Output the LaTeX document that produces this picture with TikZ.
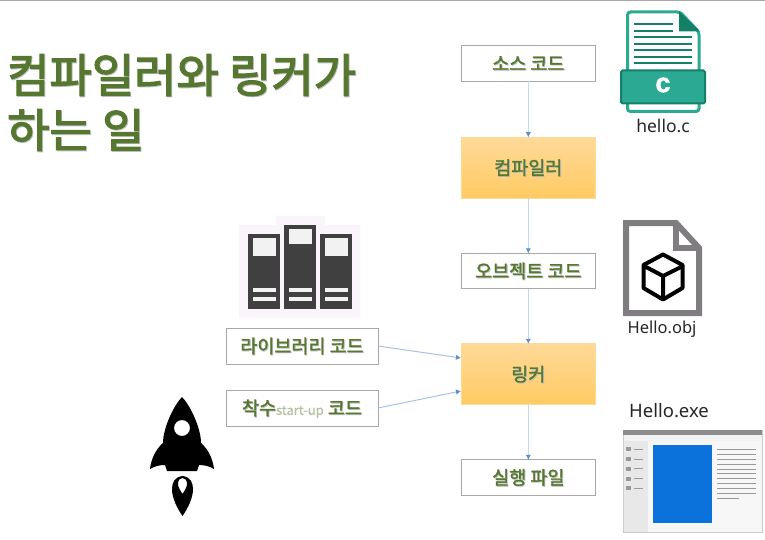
\documentclass[tikz,border=0pt]{standalone}
\usepackage{fontspec}
\setmainfont{Noto Sans}
\newfontfamily\cjk[FakeBold=1.6]{Noto Sans CJK KR}
\newfontfamily\cjkbig[FakeBold=2.8]{Noto Sans CJK KR}
\newfontfamily\cjkplain[FakeBold=.6]{Noto Sans CJK KR}
\newfontfamily\heavy[FakeBold=1.5]{Liberation Sans Bold}
\usetikzlibrary{positioning, arrows.meta}
\definecolor{leaf}{HTML}{56772F}
\definecolor{edge}{HTML}{C3D9EF}
\definecolor{tipblue}{HTML}{5B8FCB}
\definecolor{frame}{HTML}{A9A7AA}
\definecolor{teal}{HTML}{2BA993}
\definecolor{darkteal}{HTML}{158068}
\definecolor{objgray}{HTML}{807D81}
\definecolor{paper}{HTML}{FAF5FA}
\definecolor{winblue}{HTML}{0B72DC}
\definecolor{toolhi}{HTML}{FFD998}
\definecolor{toollo}{HTML}{FFCB63}
\newcommand{\soft}[1]{\rlap{\kern.9pt\raisebox{-.9pt}{\color{black!25}#1}}#1} % the faint drop shadow of the slide text
\tikzset{
codebox/.style={draw=frame, fill=white, line width=.9pt, minimum width=134.5pt, minimum height=35.5pt, outer sep=0pt, inner sep=0pt, text=leaf, text height=17pt, text depth=3.2pt, font=\cjk\fontsize{18.5}{20}\selectfont}, % the white boxes
sidebox/.style={codebox, minimum width=152pt, minimum height=36pt},
procbox/.style={codebox, draw=toolhi, top color=toolhi, bottom color=toollo, minimum height=61pt}, % the two tools
flow/.style={edge, line width=1pt, -{Latex[color=tipblue, length=5pt, width=5.5pt]}},
sideflow/.style={flow, edge!70!tipblue},
filename/.style={font=\fontsize{16.5}{18}\selectfont, text=black!85, inner sep=0pt},
}
\begin{document}
\begin{tikzpicture}[x=1pt, y=-1pt, node distance=55pt]
        \useasboundingbox (0,0) rectangle (765,540);
        \fill[frame] (0,0) rectangle (765,1);

        % title
        \node[anchor=north west, align=left, inner sep=0pt, text=leaf, font=\cjkbig\fontsize{46}{55}\selectfont] (title) at (7,54) {\soft{컴파일러와 링커가}\\\soft{하는 일}};

        % main column
        \node[codebox] (source) at (528.3,63.5) {\soft{소스 코드}};
        \node[procbox, below=56pt of source] (compiler) {\soft{컴파일러}};
        \node[codebox, below=of compiler] (object) {\soft{오브젝트 코드}};
        \node[procbox, below=of object] (linker) {\soft{링커}};
        \node[codebox, below=of linker] (program) {\soft{실행 파일}};

        % side column
        \node[sidebox] (library) at (302,346) {\soft{라이브러리 코드}};
        \node[sidebox, below=26pt of library] (startup) {\soft{착수}{\cjkplain\fontsize{13}{14}\selectfont\color{leaf!45}start-up} \soft{코드}};

        \coordinate (linkA) at (461,358);
        \coordinate (linkB) at (461,391);
        \draw[flow] (source) -- (compiler);
        \draw[flow] (compiler) -- (object);
        \draw[flow] (object) -- (linker);
        \draw[flow] (linker) -- (program);
        \draw[sideflow] (library.east) -- (linkA);
        \draw[sideflow] (startup.east) -- (linkB);

        % hello.c
        \draw[teal, line width=3pt, fill=white, rounded corners=3pt] (627.5,12) -- (680,12) -- (699,32) -- (699,111.5) -- (627.5,111.5) -- cycle;
        \fill[darkteal] (679,11) -- (700,31.5) -- (679,31.5) -- cycle;
        \foreach \y in {24,31} \draw[darkteal, line width=2pt] (634,\y) -- (673,\y);
        \foreach \y in {37,44,50,57,63} \draw[darkteal, line width=2pt] (634,\y) -- (692,\y);
        \draw[darkteal, fill=teal, line width=2pt, rounded corners=1.5pt] (621,70.5) rectangle (705,103.5);
        \node[text=white, font=\heavy\fontsize{27}{27}\selectfont, inner sep=0pt] (clabel) at (663,85) {c};
        \node[filename, font=\fontsize{17.5}{18}\selectfont] (cfile) at (663,126) {hello.c};

        % Hello.obj
        \draw[objgray, line width=6pt, miter limit=3] (626,223) -- (676,223) -- (699,248) -- (699,313) -- (626,313) -- cycle;
        \draw[objgray, line width=6pt] (676,223) -- (676,248) -- (699,248);
        \draw[black, line width=4pt, line join=round, line cap=round] (663,254.5) -- (682.5,265) -- (682.5,288) -- (663,299.5) -- (643.5,288) -- (643.5,265) -- cycle;
        \draw[black, line width=4pt, line join=round, line cap=round] (646,267) -- (663,276) -- (681,267) (663,276) -- (663,298);
        \node[filename] (objfile) at (662,329) {Hello.obj};

        % Hello.exe
        \node[filename, font=\fontsize{18.5}{20}\selectfont] (exefile) at (669,411) {Hello.exe};
        \draw[frame!60, fill=black!3] (623.5,430) rectangle (762,532.5);
        \fill[black!45] (623,430) rectangle (762,434.5);
        \fill[black!5] (623.5,434.5) rectangle (762,441);
        \fill[black!9] (624,441) rectangle (648,532);
        \fill[winblue] (653,445) rectangle (712,523);
        \foreach \y in {449,454,459,464,469,473.5,478.5,483.5,488.5,493.5} \draw[black!40, line width=1pt] (717,\y) -- (756,\y);
        \draw[black!40, line width=1pt] (717,498) -- (739,498);
        \foreach \y in {449,459,468.5,478.5,488} {
            \fill[black!40] (626,\y-2) rectangle (630.5,\y+2);
            \draw[black!40, line width=.8pt] (634,\y) -- (643,\y);
        }

        % library books
        \fill[paper] (239,225) rectangle (360,318) (276,216) rectangle (325,225);
        \foreach \x/\y/\z in {248/234/238, 284/225/229, 320/234/238} {
            \fill[black!75] (\x,\y) rectangle (\x+32,309);
            \fill[black!5] (\x+4.5,\z) rectangle (\x+27.5,\z+\y/3-60);
            \fill[black!5] (\x+4.5,287.5) rectangle (\x+27.5,292);
            \fill[black!5] (\x+4.5,296.5) rectangle (\x+27.5,301);
        }

        % rocket
        \fill[black, even odd rule] (182,397) .. controls (174,405) and (163,428) .. (163,443) .. controls (155,450) and (151,460) .. (150,469) .. controls (155,466) and (160,465) .. (165,465) -- (167,471) -- (197,471) -- (199,465) .. controls (204,465) and (209,466) .. (214,469) .. controls (213,460) and (209,450) .. (201,443) .. controls (201,428) and (190,405) .. (182,397) -- cycle (190,428) arc[start angle=0, end angle=360, radius=8];
        \fill[black, even odd rule] (182.5,516) .. controls (177,508) and (172,498) .. (172,489) .. controls (172,482) and (175,477) .. (182.5,476) .. controls (190,477) and (193,482) .. (193,489) .. controls (193,498) and (188,508) .. (182.5,516) -- cycle (182.5,494) .. controls (180,490) and (178,487) .. (178,484) .. controls (178,480) and (180,478) .. (182.5,478) .. controls (185,478) and (187,480) .. (187,484) .. controls (187,487) and (185,490) .. (182.5,494) -- cycle;
    \end{tikzpicture}
\end{document}
